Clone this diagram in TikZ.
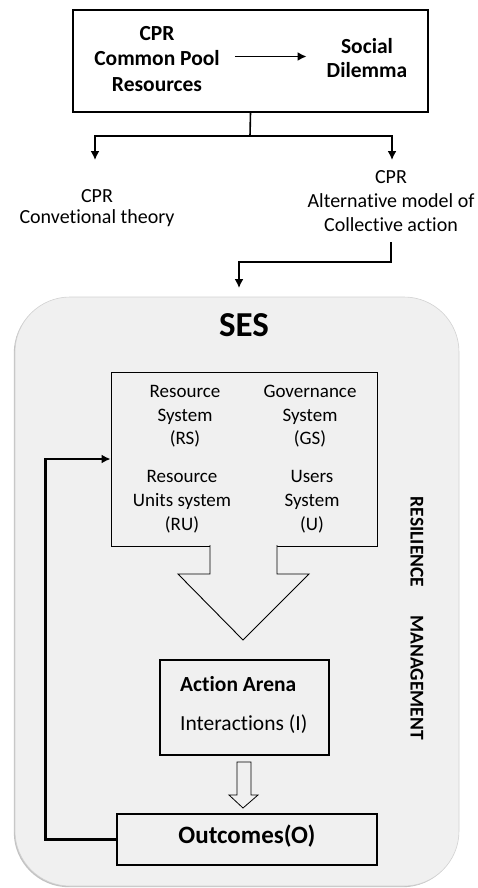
\documentclass[tikz,border=0pt]{standalone}
\usepackage{fontspec}
\setmainfont{Carlito}[Ligatures={NoCommon,NoRare}]
\usetikzlibrary{arrows.meta,calc}
\definecolor{sespanel}{RGB}{240,240,240}
\definecolor{sesedge}{RGB}{210,210,210}
\definecolor{sesshade}{RGB}{195,195,195}
\begin{document}
\begin{tikzpicture}[x=1pt,y=-1pt,
  box/.style={draw=black, line width=1.1pt, inner sep=0pt},
  lbl/.style={align=center, inner sep=0pt},
  conn/.style={line width=1.6pt, -{Latex[length=9pt,width=9pt]}},
  plain/.style={line width=1.6pt},
  loopback/.style={line width=2.6pt, -{Latex[length=9pt,width=9pt]}},
  hollow/.style={draw=black, line width=0.8pt, fill=sespanel},
  panelshape/.style={rounded corners=55pt, minimum width=444pt, minimum height=589pt, inner sep=0pt},
]
\useasboundingbox (0,0) rectangle (478,888);
\fill[white] (0,0) rectangle (478,888);

% --- CPR box and its two readings ---
\node[box, fill=white, minimum width=355pt, minimum height=102pt] (cpr) at (250.5,61) {};
\node[lbl, font=\bfseries\fontsize{21.5}{25.5}\selectfont] (pool) at (157,59) {CPR\\Common Pool\\Resources};
\node[lbl, font=\bfseries\fontsize{21.5}{24.5}\selectfont] (dilemma) at (367,58) {Social\\Dilemma};
\draw[conn, shorten <=15pt, shorten >=20pt] ([yshift=2.5pt]pool.east) -- ([yshift=2.5pt]pool.east -| dilemma.west);

\node[lbl, font=\fontsize{20}{21}\selectfont] (conv) at (97,208.5) {CPR\\Convetional theory};
\node[lbl, font=\fontsize{20}{24}\selectfont] (alt) at (391,201.5) {CPR\\Alternative model of\\Collective action};

\coordinate (split) at (250,136);
\coordinate (convtip) at (95,160);
\coordinate (alttip) at (392,160);
\draw[plain] (cpr.south) -- (split);
\draw[conn] (split) -| (convtip);
\draw[conn] (split) -| (alttip);

% --- SES panel ---
\node[panelshape, fill=sesshade] (shade) at (235.8,592.7) {};
\node[panelshape, fill=sespanel, draw=sesedge, line width=0.6pt] (panel) at (237,591.5) {};

\coordinate (bend) at (391,262);
\coordinate (entry) at (239,288);
\draw[conn, shorten <=10pt] (alt.south) -- (bend) -| (entry);

\node[font=\bfseries\fontsize{35}{35}\selectfont, anchor=base, inner sep=0pt] (ses) at (244,336) {SES};

% --- four subsystems, funnelled into the action arena ---
\node[box, line width=0.9pt, minimum width=266pt, minimum height=174pt] (sys) at (244,459) {};
\path[draw=black, line width=0.9pt, fill=sespanel] (210,545) -- (210,574) -- (178,574) -- (243,640) -- (309,574) -- (277,574) -- (277,545);

\node[lbl, font=\fontsize{19}{23.5}\selectfont] (rs) at (185,416.5) {Resource\\System\\(RS)};
\node[lbl, font=\fontsize{19}{23.5}\selectfont] (gs) at (310,416.5) {Governance\\System\\(GS)};
\node[lbl, font=\fontsize{19}{24}\selectfont] (ru) at (182,502) {Resource\\Units system\\(RU)};
\node[lbl, font=\fontsize{19}{24}\selectfont] (us) at (312,502) {Users\\System\\(U)};

% --- action arena and outcomes ---
\node[box, minimum width=169pt, minimum height=95pt] (arena) at (244.5,707.5) {};
\node[anchor=base west, font=\bfseries\fontsize{21.5}{21.5}\selectfont, inner sep=0pt] (aa) at (180,691) {Action Arena};
\node[anchor=base west, font=\fontsize{21.5}{21.5}\selectfont, inner sep=0pt] (inter) at (180,730) {Interactions (I)};

\draw[hollow] (237,762) -- (251,762) -- (251,795) -- (258,795) -- (243,808) -- (229,795) -- (237,795) -- cycle;

\node[box, minimum width=260pt, minimum height=51pt] (out) at (247,839.5) {};
\node[font=\bfseries\fontsize{25}{25}\selectfont, anchor=base, inner sep=0pt] (outlbl) at (247,843) {Outcomes(O)};

\draw[loopback] (out.west) -- ++(-71,0) |- (sys.west);

% --- side label ---
\node[rotate=-90, font=\bfseries\fontsize{19.5}{19.5}\selectfont, inner sep=0pt] (res) at (417,542) {RESILIENCE};
\node[rotate=-90, font=\bfseries\fontsize{19.5}{19.5}\selectfont, inner sep=0pt] (mgmt) at (417,677.5) {MANAGEMENT};
\end{tikzpicture}
\end{document}
